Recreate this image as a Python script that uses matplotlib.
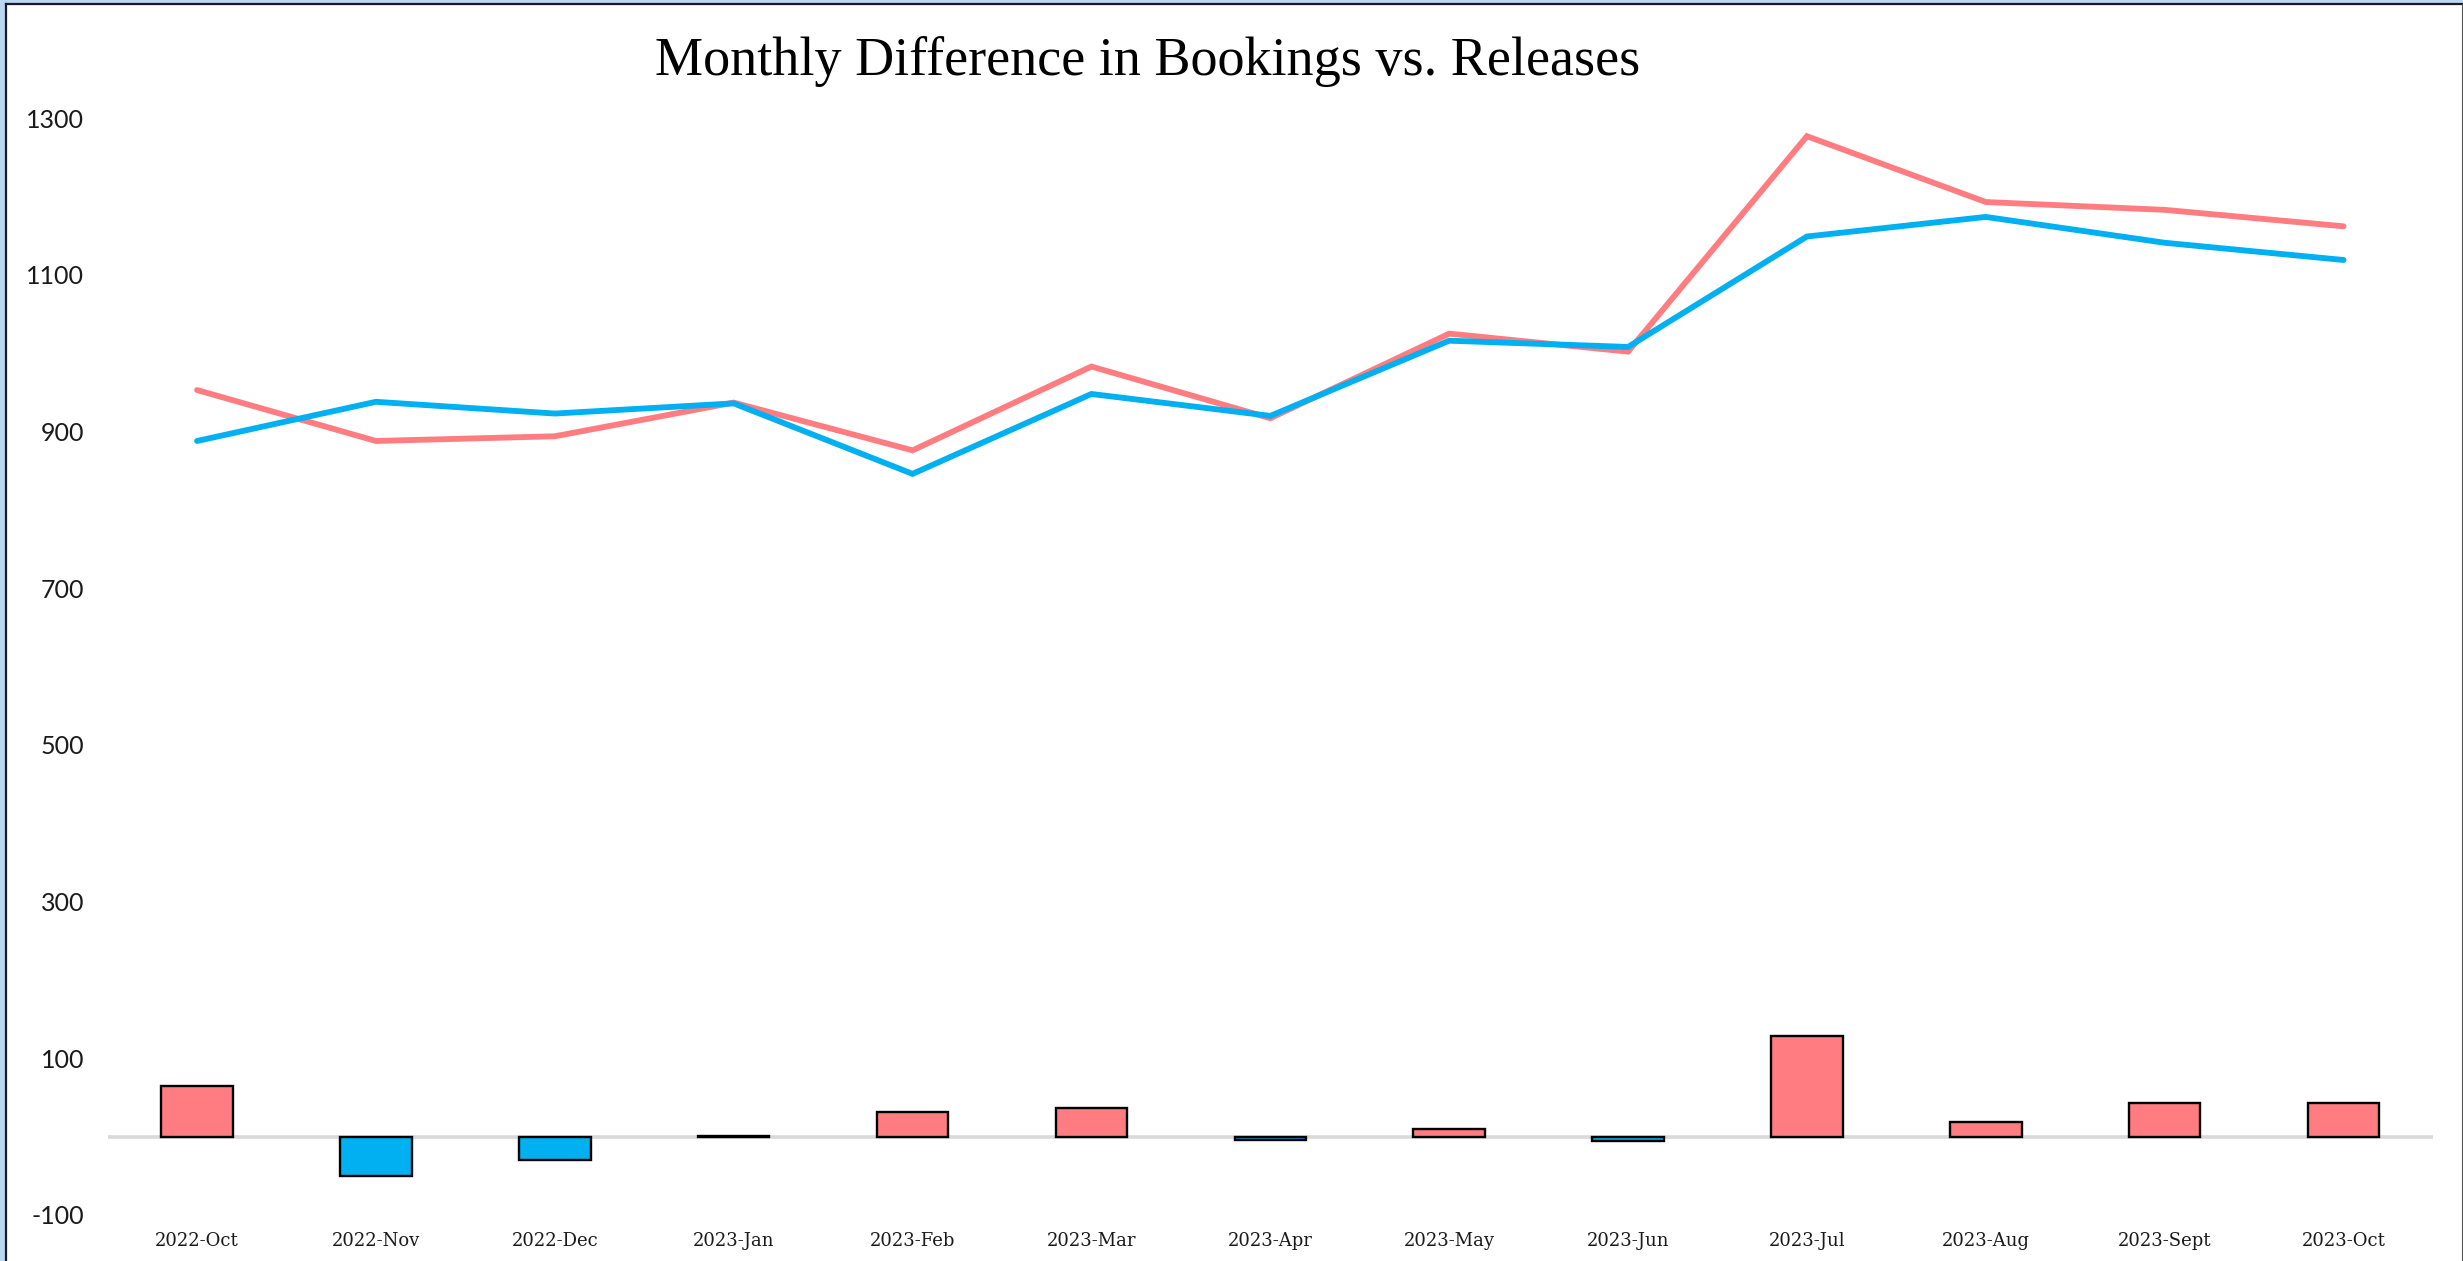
import matplotlib
matplotlib.use("Agg")
import matplotlib.pyplot as plt
from matplotlib.patches import Rectangle
from matplotlib.lines import Line2D

months = ["2022-Oct", "2022-Nov", "2022-Dec", "2023-Jan", "2023-Feb", "2023-Mar",
          "2023-Apr", "2023-May", "2023-Jun", "2023-Jul", "2023-Aug", "2023-Sept", "2023-Oct"]
bookings = [953, 888, 894, 937, 876, 983, 917, 1025, 1002, 1277, 1193, 1183, 1162]
releases = [888, 938, 923, 936, 846, 948, 920, 1016, 1008, 1149, 1174, 1141, 1119]
difference = [65, -50, -30, 1, 31, 36, -4, 10, -5, 129, 19, 43, 43]
yticks = [-100, 100, 300, 500, 700, 900, 1100, 1300]
title = "Monthly Difference in Bookings vs. Releases"

PINK = "#FF7C80"
BLUE = "#00B0F0"

W, H = 2463, 1261
fig = plt.figure(figsize=(W / 100, H / 100), dpi=100)
fig.patch.set_facecolor("white")

ax = fig.add_axes([107.6 / W, 1 - 1215 / H, (2433 - 107.6) / W, (1215 - 118.2) / H])
x = list(range(len(months)))

ax.axhline(0, color="#D9D9D9", lw=2.6, zorder=1)
bar_colors = [PINK if d >= 0 else BLUE for d in difference]
ax.bar(x, difference, width=0.4, color=bar_colors, edgecolor="black", linewidth=1.7, zorder=2)
ax.plot(x, bookings, color=PINK, lw=4.2, solid_capstyle="round", solid_joinstyle="miter", zorder=3)
ax.plot(x, releases, color=BLUE, lw=4.2, solid_capstyle="round", solid_joinstyle="miter", zorder=4)

ax.set_xlim(-0.5, len(months) - 0.5)
ax.set_ylim(-100, 1300)
ax.set_yticks(yticks)
ax.set_yticklabels([str(v) for v in yticks], fontfamily="Lato", fontsize=18, color="#1a1a1a")
ax.set_xticks(x)
ax.set_xticklabels(months, fontfamily="DejaVu Serif", fontsize=13, color="#1a1a1a")
ax.tick_params(axis="y", length=0, pad=17)
ax.tick_params(axis="x", length=0, pad=12)
for s in ax.spines.values():
    s.set_visible(False)
ax.set_facecolor("none")

fig.text(1147.5 / W, 1 - 75 / H, title, ha="center", va="baseline",
         fontfamily="Liberation Serif", fontsize=39, color="black")

# frame
fig.add_artist(Rectangle((0, 0), 5 / W, 1, transform=fig.transFigure, color="#BDD7EE", lw=0))
fig.add_artist(Rectangle((0, 1 - 2.5 / H), 1, 2.5 / H, transform=fig.transFigure, color="#BDD7EE", lw=0))
fig.add_artist(Line2D([6 / W, 6 / W], [0, 1 - 3.5 / H], transform=fig.transFigure, color="#1a1a2e", lw=1.6))
fig.add_artist(Line2D([6 / W, 1], [1 - 3.5 / H, 1 - 3.5 / H], transform=fig.transFigure, color="#1a1a2e", lw=1.6))
fig.add_artist(Line2D([1 - 1.5 / W, 1 - 1.5 / W], [0, 1 - 3.5 / H], transform=fig.transFigure, color="#555555", lw=0.8))

fig.savefig("out.png", dpi=100, facecolor="white")
